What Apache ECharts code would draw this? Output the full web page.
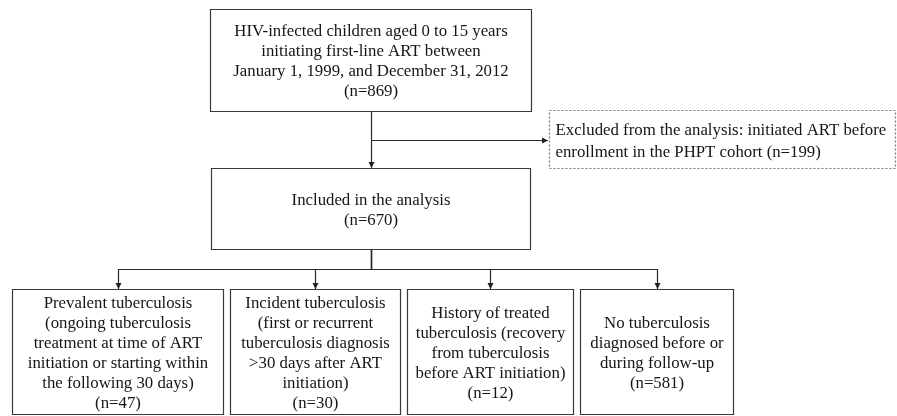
<!DOCTYPE html>
<html><head><meta charset="utf-8">
<script src="https://cdn.jsdelivr.net/npm/echarts@6/dist/echarts.min.js"></script>
<style>html,body{margin:0;padding:0;background:#fff}#c{width:897px;height:416px}</style>
</head><body><div id="c"></div><script>
// ---- content ----
const boxText = [
  ["HIV-infected children aged 0 to 15 years","initiating first-line ART between","January 1, 1999, and December 31, 2012"],
  ["Excluded from the analysis: initiated ART before","enrollment in the PHPT cohort"],
  ["Included in the analysis"],
  ["Prevalent tuberculosis","(ongoing tuberculosis","treatment at time of ART","initiation or starting within","the following 30 days)"],
  ["Incident tuberculosis","(first or recurrent","tuberculosis diagnosis",">30 days after ART","initiation)"],
  ["History of treated","tuberculosis (recovery","from tuberculosis","before ART initiation)"],
  ["No tuberculosis","diagnosed before or","during follow-up"]
];
const boxCounts = [869, 199, 670, 47, 30, 12, 581];
// edges: [parent, child, kind]
const edgeFrom = [0, 0, 2, 2, 2, 2];
const edgeTo   = [2, 1, 3, 4, 5, 6];
const edgeKind = ['down', 'side', 'down', 'down', 'down', 'down'];

// ---- layout (chart units) ----
const boxX0 = [210, 549, 211, 12, 230, 407, 580];
const boxX1 = [531, 895, 530, 223, 400, 573, 733];
const boxY0 = [9, 110, 168, 289, 289, 289, 289];
const boxY1 = [111, 168, 249, 414, 414, 414, 414];
const boxDashed = [false, true, false, false, false, false, false];
const boxLeftAlign = [false, true, false, false, false, false, false];

const FONT = '"Liberation Serif","Times New Roman",serif';
const FS = 16.8, LH = 20;
const LINE = '#3a3a3a', TXT = '#151515';

function boxLines(i) {
  const l = boxText[i].slice();
  if (i === 1) l[l.length - 1] += ' (n=' + boxCounts[i] + ')';
  else l.push('(n=' + boxCounts[i] + ')');
  return l;
}

const boxData = boxX0.map((x, i) => [x, boxY0[i], boxX1[i], boxY1[i], i]);
const edgeData = edgeFrom.map((p, i) => [p, edgeTo[i], i]);

function renderBox(params, api) {
  const i = api.value(4);
  const a = api.coord([api.value(0), api.value(1)]);
  const b = api.coord([api.value(2), api.value(3)]);
  const x = Math.round(a[0]) + 0.5, y = Math.round(a[1]) + 0.5;
  const w = Math.round(b[0] - a[0]), h = Math.round(b[1] - a[1]);
  const lines = boxLines(i);
  const left = boxLeftAlign[i];
  return {
    type: 'group',
    children: [
      { type: 'rect', shape: { x, y, width: w, height: h },
        style: { fill: '#fff', stroke: boxDashed[i] ? '#777' : LINE, lineWidth: 1.2,
                 lineDash: boxDashed[i] ? [2, 2] : null } },
      { type: 'text',
        style: { text: lines.join('\n'), x: left ? x + 6 : x + w / 2, y: y + h / 2 + (left ? 2 : 1.5),
                 align: left ? 'left' : 'center', verticalAlign: 'middle',
                 fontSize: FS, fontFamily: FONT, lineHeight: left ? 22 : LH, fill: TXT } }
    ]
  };
}

function arrowHead(tx, ty, dir) {
  const L = 6, W = 3;
  let pts;
  if (dir === 'down') pts = [[tx, ty], [tx - W, ty - L], [tx + W, ty - L]];
  else pts = [[tx, ty], [tx - L, ty - W], [tx - L, ty + W]];
  return { type: 'polygon', shape: { points: pts }, style: { fill: '#222' } };
}

function renderEdge(params, api) {
  const p = api.value(0), c = api.value(1), k = edgeKind[api.value(2)];
  const pc = api.coord([(boxX0[p] + boxX1[p]) / 2, boxY1[p]]);
  const px = Math.round(pc[0]) + 0.5, py = pc[1];
  const st = { stroke: '#2a2a2a', lineWidth: 1.2, fill: null };
  if (k === 'side') {
    const cy = Math.round(api.coord([0, (boxY0[c] + boxY1[c]) / 2 + 1])[1]) + 0.5;
    const cx = api.coord([boxX0[c], 0])[0] - 1;
    return { type: 'group', children: [
      { type: 'polyline', shape: { points: [[px, cy], [cx, cy]] }, style: st },
      arrowHead(cx, cy, 'right') ] };
  }
  const cc = api.coord([(boxX0[c] + boxX1[c]) / 2, boxY0[c]]);
  const cx = Math.round(cc[0]) + 0.5, cy = cc[1];
  if (Math.abs(cx - px) < 2) {
    return { type: 'group', children: [
      { type: 'polyline', shape: { points: [[px, py], [px, cy]] }, style: st },
      arrowHead(px, cy, 'down') ] };
  }
  const my = Math.round((py + cy) / 2) + 0.5;
  return { type: 'group', children: [
    { type: 'polyline', shape: { points: [[px, py], [px, my], [cx, my], [cx, cy]] }, style: st },
    arrowHead(cx, cy, 'down') ] };
}

const chart = echarts.init(document.getElementById('c'), null, { renderer: 'canvas' });
chart.setOption({
  backgroundColor: '#fff',
  animation: false,
  grid: { left: 0, right: 0, top: 0, bottom: 0 },
  xAxis: { type: 'value', min: 0, max: 897, show: false },
  yAxis: { type: 'value', min: 0, max: 416, inverse: true, show: false },
  series: [
    { type: 'custom', renderItem: renderEdge, data: edgeData, clip: false, z: 1 },
    { type: 'custom', renderItem: renderBox, data: boxData, clip: false, z: 2 }
  ]
});
</script></body></html>
